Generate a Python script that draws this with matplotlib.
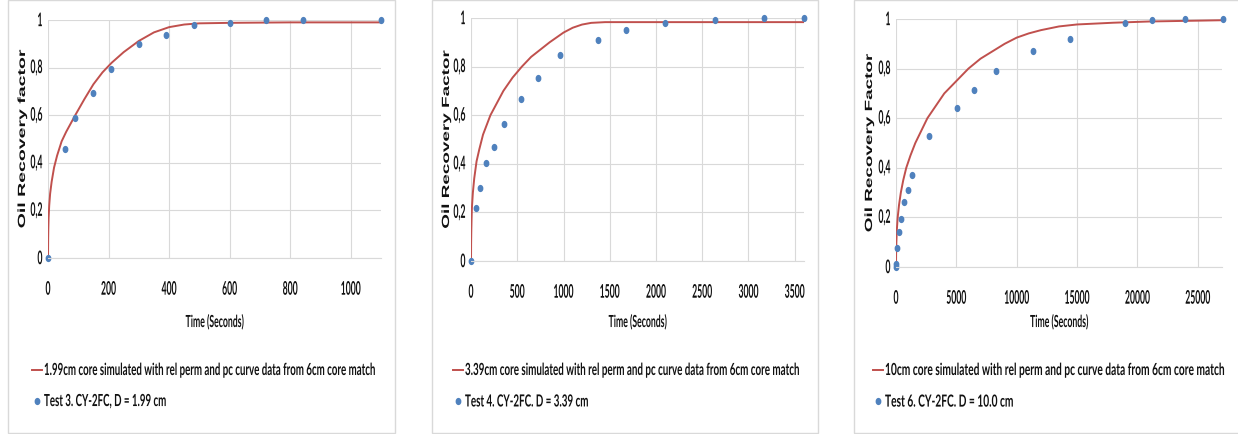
import matplotlib
matplotlib.use("Agg")
import numpy as np
import matplotlib.pyplot as plt
from matplotlib.lines import Line2D
from matplotlib.markers import MarkerStyle
from matplotlib.patches import Rectangle
from matplotlib.patheffects import AbstractPathEffect
from matplotlib.transforms import Affine2D
from matplotlib.textpath import text_to_path

# measured data (time in seconds, recovery factor)
t3 = [0, 57, 88, 149, 208, 300, 389, 481, 600, 720, 841, 1100]
rf3 = [0, 0.46, 0.59, 0.694, 0.796, 0.90, 0.937, 0.978, 0.989, 1.0, 1.0, 1.0]

t4 = [0, 54, 101, 166, 252, 356, 540, 724, 958, 1376, 1678, 2096, 2636, 3172, 3597]
rf4 = [0, 0.218, 0.30, 0.402, 0.468, 0.565, 0.665, 0.753, 0.849, 0.911, 0.951, 0.981, 0.993, 1.0, 1.0]

t6 = [0, 30, 110, 250, 440, 660, 990, 1290, 2750, 5090, 6500, 8260, 11320, 14400,
      18970, 21200, 23930, 27065]
rf6 = [0, 0.013, 0.077, 0.143, 0.195, 0.261, 0.312, 0.371, 0.528, 0.641, 0.715, 0.789,
       0.871, 0.921, 0.984, 0.995, 1.0, 1.0]

# simulated curves
st3 = [0, 0.5, 1, 2, 4, 7, 12, 20, 30, 45, 60, 90, 120, 150, 180, 210, 250, 300, 350,
       400, 450, 500, 600, 800, 1100]
sr3 = [0, 0.08, 0.12, 0.17, 0.22, 0.27, 0.32, 0.38, 0.43, 0.49, 0.53, 0.6, 0.667, 0.73,
       0.78, 0.82, 0.865, 0.912, 0.948, 0.97, 0.981, 0.986, 0.988, 0.99, 0.99]

st4 = [0, 1, 3, 6, 10, 20, 35, 60, 90, 130, 210, 280, 350, 450, 550, 650, 750, 850,
       1000, 1100, 1200, 1300, 1450, 3600]
sr4 = [0, 0.07, 0.12, 0.17, 0.22, 0.28, 0.34, 0.41, 0.46, 0.52, 0.6, 0.65, 0.7, 0.755,
       0.8, 0.84, 0.87, 0.9, 0.94, 0.96, 0.973, 0.98, 0.983, 0.983]

st6 = [0, 10, 30, 70, 140, 250, 400, 600, 850, 1200, 1600, 2100, 2600, 3300, 4000, 5000,
       6000, 7000, 8000, 9000, 10000, 11000, 12000, 13500, 15000, 18000, 21000, 27000]
sr6 = [0, 0.06, 0.1, 0.15, 0.2, 0.25, 0.3, 0.35, 0.4, 0.45, 0.5, 0.55, 0.6, 0.65, 0.7,
       0.75, 0.8, 0.84, 0.87, 0.9, 0.925, 0.942, 0.955, 0.97, 0.978, 0.985, 0.99, 0.995]

yticks = [0, 0.2, 0.4, 0.6, 0.8, 1.0]
ytick_labels = ["0", "0,2", "0,4", "0,6", "0,8", "1"]

panels = [
    dict(t=t3, rf=rf3, st=st3, sr=sr3, xmax=1100, xstep=200,
         ylabel="Oil Recovery factor",
         sim="1.99cm core simulated with rel perm and pc curve data from 6cm core match",
         test="Test 3. CY-2FC, D = 1.99 cm",
         ax_px=(48, 381, 21, 259), box_px=(8, 395), lab_x=22, leg_x=32, leg_w=330),
    dict(t=t4, rf=rf4, st=st4, sr=sr4, xmax=3600, xstep=500,
         ylabel="Oil Recovery Factor",
         sim="3.39cm core simulated with rel perm and pc curve data from 6cm core match",
         test="Test 4. CY-2FC. D = 3.39 cm",
         ax_px=(471, 804, 19, 262), box_px=(432, 818), lab_x=446, leg_x=453, leg_w=333),
    dict(t=t6, rf=rf6, st=st6, sr=sr6, xmax=27000, xstep=5000,
         ylabel="Oil Recovery Factor",
         sim="10cm core simulated with rel perm and pc curve data from 6cm core match",
         test="Test 6. CY-2FC. D = 10.0 cm",
         ax_px=(896, 1222, 20, 268), box_px=(854, 1245), lab_x=869, leg_x=873, leg_w=338),
]

W, H = 1238, 435
DPI = 100
red = "#c0504d"
blue = "#4f81bd"
grid = "#d9d9d9"
ink = "#111111"
font = "Lato"
wt = "bold"


class Stretch(AbstractPathEffect):
    # glyphs in the original are tall and very condensed: stretch the text path
    # around its own centre (sx along the text, sy across it)
    def __init__(self, size_pt, sx=1.0, sy=1.0):
        super().__init__()
        self.px = size_pt * DPI / 72
        self.sx, self.sy = sx, sy

    def draw_path(self, renderer, gc, tpath, affine, rgbFace=None):
        m = affine.get_matrix()
        k = (self.px / text_to_path.FONT_SCALE) / np.hypot(m[0, 0], m[1, 0])
        e = tpath.get_extents()
        cx, cy = k * (e.x0 + e.x1) / 2, k * (e.y0 + e.y1) / 2
        pre = (Affine2D().scale(k).translate(-cx, -cy)
               .scale(self.sx, self.sy).translate(cx, cy))
        renderer.draw_path(gc, tpath, pre + affine, rgbFace)


fig = plt.figure(figsize=(W / DPI, H / DPI), dpi=DPI)
rend = fig.canvas.get_renderer()


def width_px(s, size, family=font, weight=wt):
    t = fig.text(0, 0, s, size=size, family=family, weight=weight)
    w = t.get_window_extent(rend).width
    t.remove()
    return w


def fit(t, target_w, size):
    # shrink the font until the text is target_w wide, then stretch it back up
    f = target_w / width_px(t.get_text(), size)
    t.set_size(size * f)
    t.set_path_effects([Stretch(size * f, sy=1 / f)])


tick_size = 13.5
leg_size = 12
tick_f = 20 / width_px("1000", tick_size)
dot = MarkerStyle("o", transform=Affine2D().scale(0.75, 1.0))

for p in panels:
    x0, x1, y0, y1 = p["ax_px"]
    bx0, bx1 = p["box_px"]
    fig.patches.append(Rectangle((bx0 / W, 1 / H), (bx1 - bx0) / W, (H - 2) / H,
                                 transform=fig.transFigure, fill=False,
                                 edgecolor=grid, linewidth=1))
    ax = fig.add_axes([x0 / W, 1 - y1 / H, (x1 - x0) / W, (y1 - y0) / H])
    ax.plot(p["st"], p["sr"], color=red, linewidth=1.4)
    ax.plot(p["t"], p["rf"], linestyle="none", marker=dot, markersize=4.2,
            color=blue, clip_on=False)
    ax.set_xlim(0, p["xmax"])
    ax.set_ylim(0, 1)
    ax.set_xticks(range(0, p["xmax"] + 1, p["xstep"]))
    ax.set_yticks(yticks)
    ax.set_yticklabels(ytick_labels)
    ax.grid(True, color=grid, linewidth=0.8)
    ax.set_axisbelow(True)
    for s in ["top", "right", "left"]:
        ax.spines[s].set_visible(False)
    ax.spines["bottom"].set_color(grid)
    ax.tick_params(length=0, labelsize=tick_size * tick_f, labelcolor=ink)
    ax.tick_params(axis="x", pad=22)
    ax.tick_params(axis="y", pad=4)
    for lab in ax.get_xticklabels() + ax.get_yticklabels():
        lab.set_family(font)
        lab.set_weight(wt)
        lab.set_va("center")
        lab.set_path_effects([Stretch(tick_size * tick_f, sy=1 / tick_f)])

    ax.set_xlabel("Time (Seconds)", family=font, weight=wt, color=ink)
    ax.xaxis.label.set_va("center")
    ax.xaxis.set_label_coords(0.5, -(323 - y1) / (y1 - y0))
    fit(ax.xaxis.label, 58, leg_size)

    ax.set_ylabel(p["ylabel"], fontsize=7.5, fontweight="bold",
                  family="Liberation Sans", color=ink)
    ax.yaxis.label.set_va("center")
    ax.yaxis.set_label_coords(-(x0 - p["lab_x"]) / (x1 - x0), 0.5)
    ylen = width_px(p["ylabel"], 7.5, family="Liberation Sans", weight="bold")
    ax.yaxis.label.set_path_effects([Stretch(7.5, sx=178 / ylen)])

    handles = [Line2D([], [], color=red, linewidth=1.4),
               Line2D([], [], linestyle="none", marker=dot, markersize=4.2, color=blue)]
    f = p["leg_w"] / width_px(p["sim"], leg_size)
    em = leg_size * f * DPI / 72
    leg = fig.legend(handles, [p["sim"], p["test"]], loc="upper left",
                     bbox_to_anchor=(p["leg_x"] / W, 1 - 367 / H),
                     frameon=False, handlelength=10 / em, handletextpad=2 / em,
                     labelspacing=22 / em, borderaxespad=0, borderpad=0,
                     prop={"family": font, "weight": wt, "size": leg_size * f})
    for t in leg.get_texts():
        t.set_color(ink)
        t.set_path_effects([Stretch(leg_size * f, sy=1 / f)])

fig.savefig("out.png", dpi=DPI)
